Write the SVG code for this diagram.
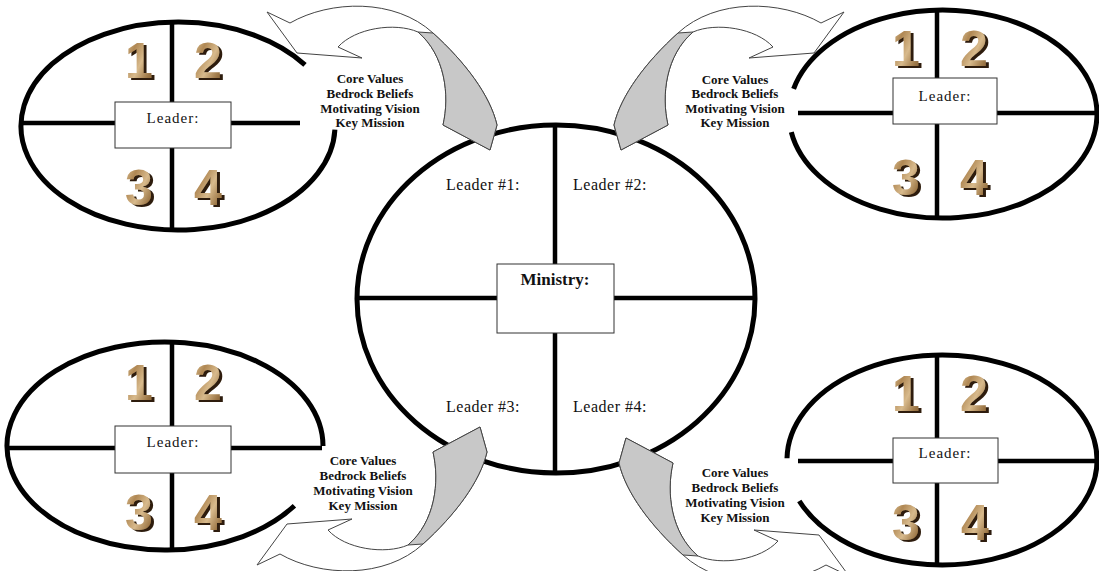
<svg xmlns="http://www.w3.org/2000/svg" width="1099" height="571" viewBox="0 0 1099 571">
<defs>
<linearGradient id="wood" x1="0" y1="0" x2="1" y2="1">
<stop offset="0" stop-color="#e6cfa4"/>
<stop offset="0.3" stop-color="#b08854"/>
<stop offset="0.55" stop-color="#d8ba8c"/>
<stop offset="0.8" stop-color="#9c7646"/>
<stop offset="1" stop-color="#76552e"/>
</linearGradient>
<filter id="bevel" x="-20%" y="-20%" width="150%" height="150%">
<feOffset in="SourceAlpha" dx="3" dy="2" result="o"/>
<feFlood flood-color="#2e1d0c"/>
<feComposite in2="o" operator="in" result="s"/>
<feMerge><feMergeNode in="s"/><feMergeNode in="SourceGraphic"/></feMerge>
</filter>
<path id="curl" d="M290,23 C330,0 395,-2 433,33 C465,62 490,95 497,125 L490,150 L443,125 C450,95 445,55 418,32 C395,22 355,28 338,47 L362,58 L297,53 L267,12 Z"/>
<path id="curlback" d="M418,32 C445,55 450,95 443,125 L490,150 L497,125 C490,95 465,62 433,33 Z"/>
<style>
.ring{fill:none;stroke:#000;stroke-width:5}
.bar{stroke:#000;stroke-width:4.5}
.box{fill:#fff;stroke:#333;stroke-width:1}
.lbl{font-family:"Liberation Serif","DejaVu Serif",serif;font-size:15px;text-anchor:middle;fill:#111;letter-spacing:1px}
.lead{font-family:"Liberation Serif","DejaVu Serif",serif;font-size:16px;text-anchor:middle;fill:#111;letter-spacing:0.5px}
.min{font-family:"Liberation Serif","DejaVu Serif",serif;font-size:17px;font-weight:bold;text-anchor:middle;fill:#111}
.num{font-family:"Liberation Sans",Arial,sans-serif;font-weight:bold;font-size:50px;text-anchor:middle;fill:url(#wood);filter:url(#bevel)}
.cv{font-family:"Liberation Serif","DejaVu Serif",serif;font-weight:bold;font-size:13px;text-anchor:middle;fill:#111}
.face{fill:#fff;stroke:#444;stroke-width:1}
.back{fill:#c8c8c8;stroke:#444;stroke-width:1}
</style>
</defs>
<rect width="1099" height="571" fill="#fff"/>

<g id="node-ministry">
<ellipse class="ring" cx="556" cy="299" rx="199" ry="174"/>
<line class="bar" x1="555" y1="125" x2="555" y2="473"/>
<line class="bar" x1="357" y1="298" x2="755" y2="298"/>
<rect class="box" x="497" y="264" width="117" height="69"/>
<text class="min" x="555" y="285">Ministry:</text>
<text class="lead" x="483" y="190">Leader #1:</text>
<text class="lead" x="610" y="190">Leader #2:</text>
<text class="lead" x="483" y="412">Leader #3:</text>
<text class="lead" x="610" y="412">Leader #4:</text>
</g>

<g id="node-leader-tl">
<path class="ring" d="M334.9,129.6 A157,104 0 1 1 305,64.9"/>
<line class="bar" x1="172" y1="22" x2="172" y2="230"/>
<line class="bar" x1="22" y1="123" x2="300" y2="123"/>
<rect class="box" x="115" y="102" width="116" height="46"/>
<text class="lbl" x="173" y="123">Leader:</text>
<g class="num">
<text x="139" y="78">1</text>
<text x="208" y="78">2</text>
<text x="139" y="205">3</text>
<text x="208" y="205">4</text>
</g>
</g>

<g id="node-leader-tr">
<path class="ring" d="M793.6,88.8 A154,104 0 1 1 791.3,132.1"/>
<line class="bar" x1="937" y1="10" x2="937" y2="218"/>
<line class="bar" x1="798" y1="113" x2="1097" y2="113"/>
<rect class="box" x="893" y="78" width="104" height="46"/>
<text class="lbl" x="945" y="101">Leader:</text>
<g class="num">
<text x="906" y="66">1</text>
<text x="974" y="66">2</text>
<text x="906" y="195">3</text>
<text x="974" y="195">4</text>
</g>
</g>

<g id="node-leader-bl">
<path class="ring" d="M294.4,505.7 A158,104 0 1 1 323,446"/>
<line class="bar" x1="172" y1="342" x2="172" y2="550"/>
<line class="bar" x1="8" y1="448" x2="322" y2="448"/>
<rect class="box" x="115" y="426" width="116" height="47"/>
<text class="lbl" x="173" y="447">Leader:</text>
<g class="num">
<text x="139" y="400">1</text>
<text x="208" y="400">2</text>
<text x="139" y="530">3</text>
<text x="208" y="530">4</text>
</g>
</g>

<g id="node-leader-br">
<path class="ring" d="M787,458.2 A155,105 0 1 1 799.3,501"/>
<line class="bar" x1="937" y1="355" x2="937" y2="565"/>
<line class="bar" x1="798" y1="461" x2="1095" y2="461"/>
<rect class="box" x="893" y="438" width="105" height="45"/>
<text class="lbl" x="945" y="458">Leader:</text>
<g class="num">
<text x="906" y="411">1</text>
<text x="974" y="411">2</text>
<text x="906" y="540">3</text>
<text x="975" y="540">4</text>
</g>
</g>

<g id="connectors">
<g id="arrow-tl">
<use href="#curl" class="face"/>
<use href="#curlback" class="back"/>
</g>
<g id="arrow-tr" transform="translate(1111,0) scale(-1,1)">
<use href="#curl" class="face"/>
<use href="#curlback" class="back"/>
</g>
<g id="arrow-bl" transform="translate(-10,577) scale(1,-1)">
<use href="#curl" class="face"/>
<use href="#curlback" class="back"/>
</g>
<g id="arrow-br" transform="translate(1116,588) scale(-1,-1)">
<use href="#curl" class="face"/>
<use href="#curlback" class="back"/>
</g>
</g>

<g id="label-tl" class="cv">
<text x="370" y="83">Core Values</text>
<text x="370" y="98">Bedrock Beliefs</text>
<text x="370" y="113">Motivating Vision</text>
<text x="370" y="127">Key Mission</text>
</g>
<g id="label-tr" class="cv">
<text x="735" y="84">Core Values</text>
<text x="735" y="98">Bedrock Beliefs</text>
<text x="735" y="113">Motivating Vision</text>
<text x="735" y="127">Key Mission</text>
</g>
<g id="label-bl" class="cv">
<text x="363" y="465">Core Values</text>
<text x="363" y="480">Bedrock Beliefs</text>
<text x="363" y="495">Motivating Vision</text>
<text x="363" y="510">Key Mission</text>
</g>
<g id="label-br" class="cv">
<text x="735" y="477">Core Values</text>
<text x="735" y="492">Bedrock Beliefs</text>
<text x="735" y="507">Motivating Vision</text>
<text x="735" y="522">Key Mission</text>
</g>
</svg>
